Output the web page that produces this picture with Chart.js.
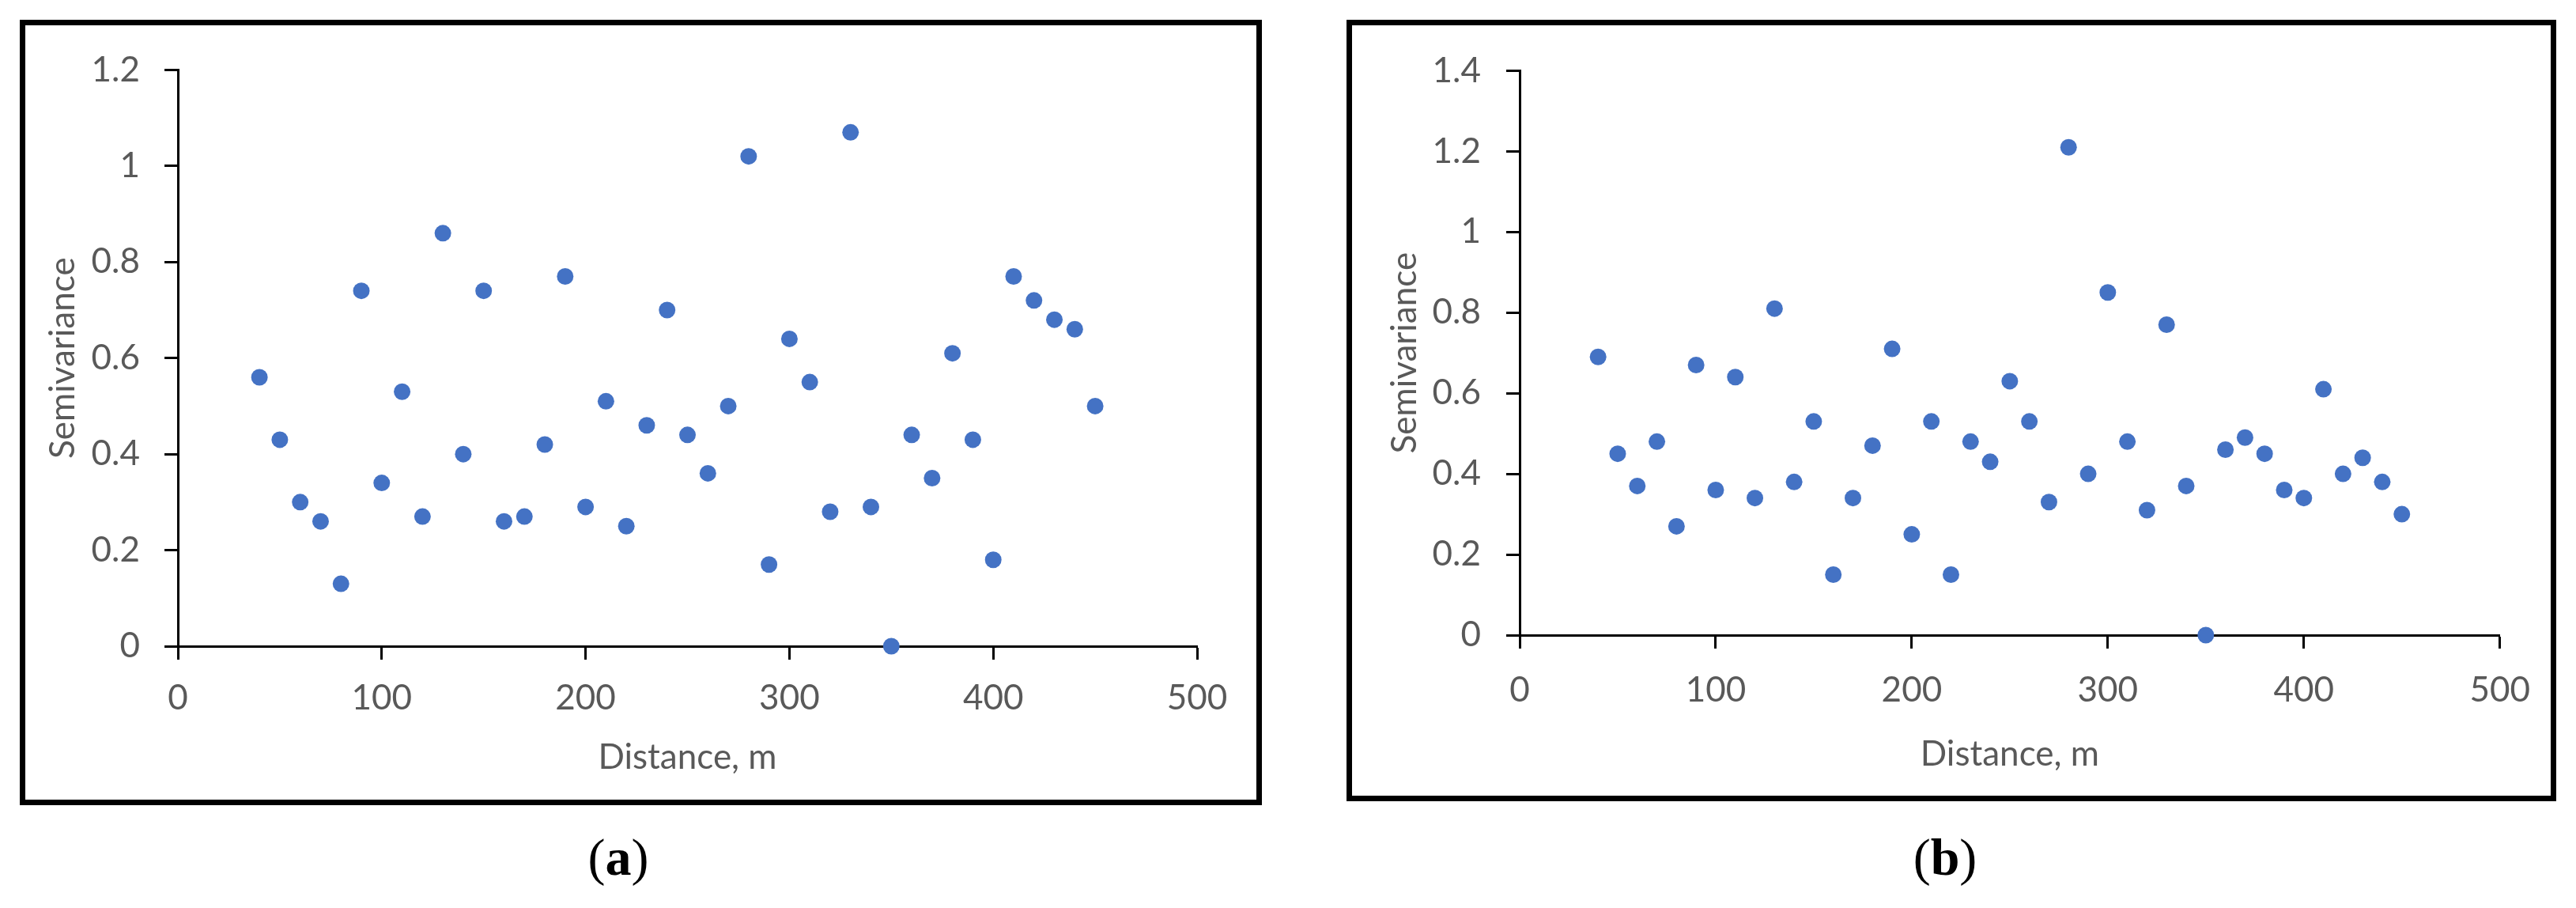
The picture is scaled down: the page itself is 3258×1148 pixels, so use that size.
<!DOCTYPE html>
<html>
<head>
<meta charset="utf-8">
<script src="https://cdn.jsdelivr.net/npm/chart.js@4.4.0/dist/chart.umd.min.js"></script>
<style>
  body { margin: 0; width: 3258px; height: 1148px; background: #fff; position: relative; overflow: hidden; }
  .frame { position: absolute; border: 7px solid #000; box-sizing: border-box; }
  canvas { position: absolute; }
  .cap { position: absolute; font-family: "Liberation Serif", serif; font-size: 66px; line-height: 76px; transform: translateX(-50%); color: #000; }
</style>
</head>
<body>
<div class="frame" style="left:25px;top:25px;width:1571px;height:993px"></div>
<div class="frame" style="left:1703px;top:25px;width:1530px;height:988px"></div>
<canvas id="chartA" width="1557" height="981" style="left:32px;top:31px"></canvas>
<canvas id="chartB" width="1516" height="976" style="left:1710px;top:31px"></canvas>
<div class="cap" style="left:782px;top:1046px">(<b>a</b>)</div>
<div class="cap" style="left:2460px;top:1046px">(<b>b</b>)</div>
<script>
const distance = [40, 50, 60, 70, 80, 90, 100, 110, 120, 130, 140, 150, 160, 170, 180, 190, 200, 210, 220, 230, 240,
  250, 260, 270, 280, 290, 300, 310, 320, 330, 340, 350, 360, 370, 380, 390, 400, 410, 420, 430, 440, 450];
const semivarA = [0.56, 0.43, 0.30, 0.26, 0.13, 0.74, 0.34, 0.53, 0.27, 0.86, 0.40, 0.74, 0.26, 0.27, 0.42, 0.77, 0.29, 0.51, 0.25, 0.46, 0.70,
  0.44, 0.36, 0.50, 1.02, 0.17, 0.64, 0.55, 0.28, 1.07, 0.29, 0.00, 0.44, 0.35, 0.61, 0.43, 0.18, 0.77, 0.72, 0.68, 0.66, 0.50];
const semivarB = [0.69, 0.45, 0.37, 0.48, 0.27, 0.67, 0.36, 0.64, 0.34, 0.81, 0.38, 0.53, 0.15, 0.34, 0.47, 0.71, 0.25, 0.53, 0.15, 0.48, 0.43,
  0.63, 0.53, 0.33, 1.21, 0.40, 0.85, 0.48, 0.31, 0.77, 0.37, 0.00, 0.46, 0.49, 0.45, 0.36, 0.34, 0.61, 0.40, 0.44, 0.38, 0.30];
const xTicks = [0, 100, 200, 300, 400, 500];
const yTicksA = [0, 0.2, 0.4, 0.6, 0.8, 1, 1.2];
const yTicksB = [0, 0.2, 0.4, 0.6, 0.8, 1, 1.2, 1.4];

const grey = '#595959';
const tickFont = { family: 'Lato, sans-serif', size: 44 };
const titleFont = { family: 'Lato, sans-serif', size: 44 };

function makeChart(id, values, yTicks, lay) {
  const ctx = document.getElementById(id).getContext('2d');
  return new Chart(ctx, {
    type: 'scatter',
    data: {
      datasets: [{
        data: distance.map((d, i) => ({ x: d, y: values[i] })),
        backgroundColor: '#4472C4',
        borderWidth: 0,
        pointRadius: 10.5,
        pointHoverRadius: 10.5,
        clip: false,
      }],
    },
    options: {
      responsive: false,
      animation: false,
      events: [],
      layout: { padding: { left: 0, top: lay.top, right: lay.right, bottom: 0 } },
      plugins: { legend: { display: false }, tooltip: { enabled: false } },
      scales: {
        x: {
          type: 'linear',
          min: 0,
          max: 500,
          afterBuildTicks: (s) => { s.ticks = xTicks.map(v => ({ value: v })); },
          afterFit: (s) => { s.height = lay.xh; },
          grid: { drawOnChartArea: false, tickLength: 17, tickWidth: 3, tickColor: '#000' },
          border: { color: '#000', width: 3 },
          ticks: { color: grey, font: tickFont, padding: lay.xpad, maxRotation: 0 },
          title: { display: true, text: 'Distance, m', color: grey, font: titleFont, padding: { top: 0, bottom: lay.xtitle } },
        },
        y: {
          type: 'linear',
          min: 0,
          max: yTicks[yTicks.length - 1],
          afterBuildTicks: (s) => { s.ticks = yTicks.map(v => ({ value: v })); },
          afterFit: (s) => { s.width = lay.yw; },
          grid: { drawOnChartArea: false, tickLength: 17, tickWidth: 3, tickColor: '#000' },
          border: { color: '#000', width: 3 },
          ticks: {
            color: grey, font: tickFont, padding: lay.ypad,
            callback: (v) => String(Math.round(v * 10) / 10),
          },
          title: { display: true, text: 'Semivariance', color: grey, font: titleFont, padding: { top: lay.ytitle, bottom: 0 } },
        },
      },
    },
  });
}

makeChart('chartA', semivarA, yTicksA, { top: 36, right: 75, xh: 195, yw: 193, xpad: 22, ypad: 31, xtitle: 28, ytitle: 21 });
makeChart('chartB', semivarB, yTicksB, { top: 35, right: 54, xh: 204, yw: 212, xpad: 26, ypad: 32, xtitle: 27, ytitle: 40 });
</script>
</body>
</html>
